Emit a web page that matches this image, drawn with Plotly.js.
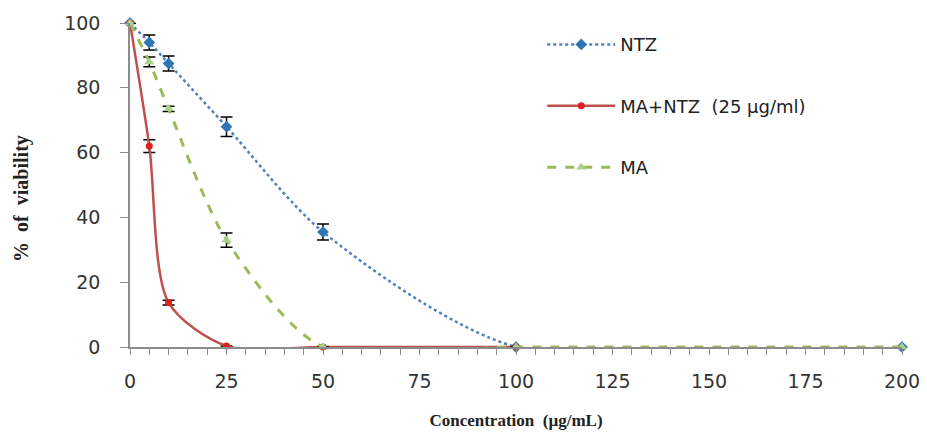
<!DOCTYPE html>
<html><head><meta charset="utf-8">
<script src="https://cdn.plot.ly/plotly-3.0.1.min.js"></script>
<style>body{margin:0;background:#fff}#c{width:927px;height:437px}</style>
</head><body><div id="c"></div>
<script>
const conc = [0, 5, 10, 25, 50, 100, 200];
const ntzY = [100, 94, 87.5, 68, 35.5, 0, 0];
const ntzErr = [null, 2.3, 2.3, 3, 2.5, null, null];
const comboX = [0, 5, 10, 25, 50, 100];
const comboY = [100, 62, 13.7, 0.3, 0, 0];
const comboErr = [null, 2, 0.7, null, null, null];
const maY = [100, 88, 73.5, 33, 0, 0, 0];
const maErr = [null, 1.5, 0.8, 2.2, null, null, null];
const names = ['NTZ', 'MA+NTZ  (25 µg/ml)', 'MA'];
const xTicks = [0, 25, 50, 75, 100, 125, 150, 175, 200];

function eb(arr){return {type:'data', array:arr, visible:true, color:'#000', thickness:1.5, width:6};}

const traces = [
  {x: conc, y: ntzY, name: names[0], mode:'lines+markers', legendrank:1,
   line:{color:'#4f81bd', dash:'dot', width:2.5, shape:'spline', smoothing:0.8},
   marker:{symbol:'diamond', size:9, color:'#2e75b6'}, error_y: eb(ntzErr), cliponaxis:false},
  {x: comboX, y: comboY, name: names[1], mode:'lines+markers', legendrank:2,
   line:{color:'#c0504d', width:2.5, shape:'spline', smoothing:0.8},
   marker:{symbol:'circle', size:7, color:'#e0201b'}, error_y: eb(comboErr), cliponaxis:false},
  {x: conc, y: maY, name: names[2], mode:'lines+markers', legendrank:3,
   line:{color:'#9bbb59', dash:'dash', width:3, shape:'spline', smoothing:0.8},
   marker:{symbol:'triangle-up', size:9, color:'#a9d18e'}, error_y: eb(maErr), cliponaxis:false}
];

const serif = 'Liberation Serif, Times New Roman, serif';
const layout = {
  width:927, height:437, paper_bgcolor:'#fff', plot_bgcolor:'#fff',
  margin:{l:130, r:25, t:23, b:90},
  font:{family:'DejaVu Sans, Verdana, sans-serif', size:19, color:'#333'},
  xaxis:{range:[0,200], tickvals:xTicks, ticktext:xTicks.map(String), showgrid:false, zeroline:false,
    showline:true, linecolor:'#8c8c8c', linewidth:1.5, ticks:'outside', ticklen:6, tickcolor:'#8c8c8c',
    minor:{dtick:5, tick0:0, ticks:'outside', ticklen:6, tickcolor:'#8c8c8c', showgrid:false},
    ticklabelstandoff:10,
    title:{text:'Concentration\u00A0 (µg/mL)', standoff:24, font:{family:serif, size:17, color:'#222', weight:'bold'}}},
  yaxis:{range:[0,100], dtick:20, showgrid:false, zeroline:false, showline:true, linecolor:'#8c8c8c', linewidth:1.5,
    ticks:'outside', ticklen:8, tickcolor:'#8c8c8c', ticklabelstandoff:16},
  annotations:[{text:'%\u00A0 of\u00A0 viability', textangle:-90, xref:'paper', yref:'paper',
    x:-0.14, y:0.46, xanchor:'center', yanchor:'middle', showarrow:false,
    font:{family:serif, size:20, color:'#222', weight:'bold'}}],
  showlegend:true,
  legend:{x:0.534, y:0.99, xanchor:'left', yanchor:'top', bgcolor:'rgba(0,0,0,0)', font:{size:18, color:'#222'},
    itemwidth:68, tracegroupgap:35},
};
traces.forEach((t,i)=>t.legendgroup='g'+i);
Plotly.newPlot('c', traces, layout, {displayModeBar:false});
</script></body></html>
